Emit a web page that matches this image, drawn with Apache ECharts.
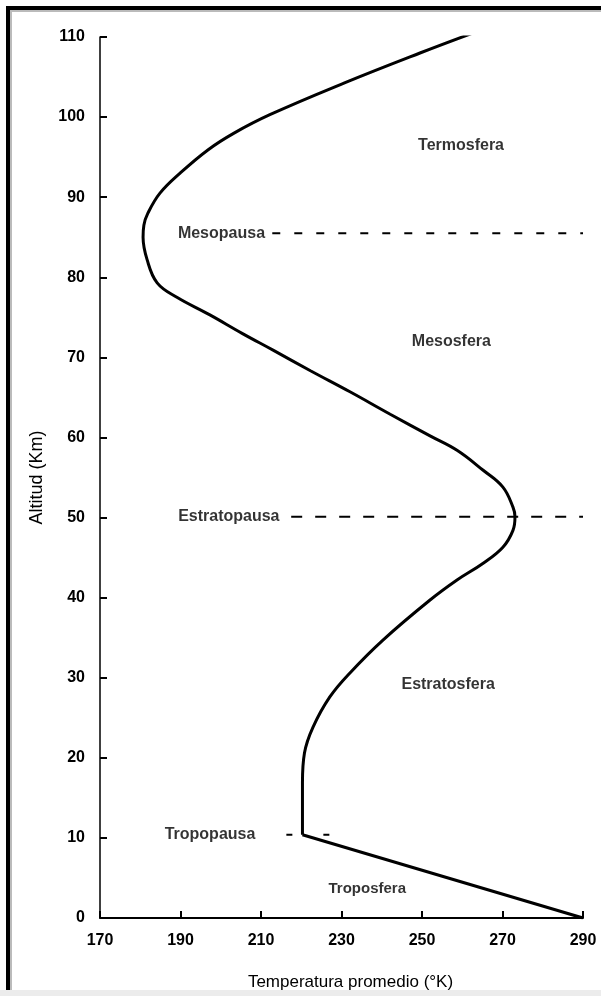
<!DOCTYPE html>
<html>
<head>
<meta charset="utf-8">
<script src="https://cdn.jsdelivr.net/npm/echarts@6/dist/echarts.min.js"></script>
<style>html,body{margin:0;padding:0;background:#fff;}#chart{width:601px;height:996px;}</style>
</head>
<body>
<div id="chart"></div>
<script>
// Temperature profile (K) vs altitude (km)
const temperature = [290, 220.3, 220.3, 220.8, 222.9, 227.1, 232.1, 240.3, 252.0, 258.7, 265.2, 270.1, 272.6, 273.1, 272.6, 270.1, 265.2, 258.7, 252.0, 242.1, 232.1, 222.4, 213.0, 205.3, 197.3, 189.1, 184.2, 181.7, 180.7, 180.9, 181.9, 184.9, 189.9, 196.8, 203.3, 212.2, 230.9, 249.5, 263.2];
const altitude    = [0,   10.4,  16.9,  20.6,  23.8,  27.6,  30.6,  34.7,  39.7,  42.2,  44.3,  46.3,  48.4,  50.1,  51.3,  53.8,  55.9,  58.4,  60.2,  62.9,  65.7,  68.3,  70.9,  73.0,  75.3,  77.5,  79.3,  82.2,  85.0,  86.5,  88.0,  90.5,  93.0,  95.9,  98.0,  100.3, 104.3, 108.0, 110.6];

const xTicks = {min: 170, max: 290, step: 20};
const yTicks = {min: 0, max: 110, step: 10};

// Boundary levels (dashed)
const boundaryNames = ['Mesopausa', 'Estratopausa', 'Tropopausa'];
const boundaryAlt   = [85.5, 50.1, 10.4];
const boundaryFrom  = [212.8, 217.5, 216.3];
const boundaryTo    = [290, 290, 227.5];
const boundaryLabelT = [211.0, 214.6, 208.6];

// Layer names
const layerNames = ['Termosfera', 'Mesosfera', 'Estratosfera', 'Troposfera'];
const layerT     = [259.7, 257.3, 256.5, 236.4];
const layerAlt   = [96.4, 72.0, 29.1, 3.6];

const FONT = 'Liberation Sans, Arial, sans-serif';
const INK = '#000';

const chart = echarts.init(document.getElementById('chart'), null, {renderer: 'canvas'});

const profile = temperature.map((t, i) => [t, altitude[i]]);

const series = [
  {
    type: 'line', data: profile.slice(0, 2), symbol: 'none',
    lineStyle: {color: INK, width: 3}, z: 5, animation: false
  },
  {
    type: 'line', data: profile.slice(1), symbol: 'none', smooth: 0.4,
    lineStyle: {color: INK, width: 3}, z: 5, animation: false
  }
];

const dashPatterns = [[8, 14], [11, 13], [6, 31]];
boundaryNames.forEach((name, i) => {
  series.push({
    type: 'line', symbol: 'none', animation: false,
    data: [[boundaryFrom[i], boundaryAlt[i]], [boundaryTo[i], boundaryAlt[i]]],
    lineStyle: {color: INK, width: 2, type: dashPatterns[i]},
    z: 4
  });
  series.push({
    type: 'scatter', symbolSize: 0, animation: false, silent: true,
    data: [[boundaryLabelT[i], boundaryAlt[i]]],
    label: {show: true, position: 'left', distance: 0, formatter: name,
      fontFamily: FONT, fontSize: 16, fontWeight: 'bold', color: INK}
  });
});

series.push({
  type: 'scatter', symbolSize: 0, animation: false, silent: true,
  data: layerNames.map((n, i) => ({name: n, value: [layerT[i], layerAlt[i]],
    label: {fontSize: i === 3 ? 15 : 16}})),
  label: {show: true, position: 'inside', formatter: p => p.name,
    fontFamily: FONT, fontSize: 16, fontWeight: 'bold', color: INK}
});

chart.setOption({
  animation: false,
  backgroundColor: '#fff',
  grid: {left: 100, right: 18, top: 37, bottom: 78, containLabel: false},
  xAxis: {
    type: 'value', min: xTicks.min, max: xTicks.max, interval: xTicks.step,
    name: 'Temperatura promedio (°K)', nameLocation: 'middle', nameGap: 56,
    nameTextStyle: {fontFamily: FONT, fontSize: 17, color: INK, padding: [0, 0, 0, 18]},
    axisLine: {show: true, onZero: false, lineStyle: {color: INK, width: 2}},
    axisTick: {show: true, inside: true, length: 7, lineStyle: {color: INK, width: 2}},
    axisLabel: {fontFamily: FONT, fontSize: 16, fontWeight: 'bold', color: INK, margin: 15},
    splitLine: {show: false}
  },
  yAxis: {
    type: 'value', min: yTicks.min, max: yTicks.max, interval: yTicks.step,
    name: 'Altitud (Km)', nameLocation: 'middle', nameGap: 54, nameRotate: 90,
    nameTextStyle: {fontFamily: FONT, fontSize: 18, color: INK},
    axisLine: {show: true, onZero: false, lineStyle: {color: INK, width: 1.5}},
    axisTick: {show: true, inside: true, length: 7, lineStyle: {color: INK, width: 2}},
    axisLabel: {fontFamily: FONT, fontSize: 16, fontWeight: 'bold', color: INK, margin: 15},
    splitLine: {show: false}
  },
  graphic: [
    {type: 'rect', shape: {x: 6, y: 6, width: 4, height: 984}, style: {fill: '#000'}, silent: true},
    {type: 'rect', shape: {x: 6, y: 6, width: 595, height: 4}, style: {fill: '#000'}, silent: true},
    {type: 'rect', shape: {x: 10, y: 10, width: 2, height: 980}, style: {fill: '#bbb'}, silent: true},
    {type: 'rect', shape: {x: 10, y: 10, width: 591, height: 2}, style: {fill: '#bbb'}, silent: true},
    {type: 'rect', shape: {x: 0, y: 990, width: 601, height: 6}, style: {fill: '#ececec'}, silent: true}
  ],
  series: series
});
</script>
</body>
</html>
